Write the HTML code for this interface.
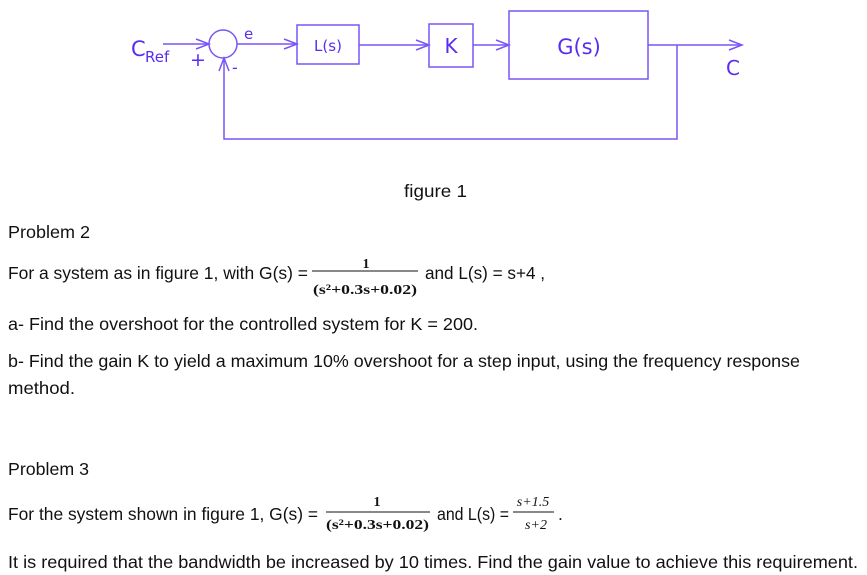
<!DOCTYPE html>
<html><head><meta charset="utf-8"><style>
html,body{margin:0;padding:0;background:#fff;}
svg{display:block;}
.t{font-family:"Liberation Sans",sans-serif;font-size:17.5px;fill:#111;}
.m{font-family:"Liberation Serif",serif;font-size:14px;fill:#111;}
.d{font-family:"DejaVu Sans","Liberation Sans",sans-serif;fill:#5b2cf0;}
</style></head><body>
<svg width="867" height="575" viewBox="0 0 867 575" xmlns="http://www.w3.org/2000/svg">
<g stroke="#7a55f5" stroke-width="1.5" fill="none">
<circle cx="223" cy="44" r="14"/>
<rect x="297" y="25" width="62" height="39"/>
<rect x="429" y="24" width="44" height="43"/>
<rect x="509" y="11" width="139" height="68"/>
<line x1="163" y1="44" x2="209" y2="44"/>
<line x1="237" y1="44" x2="297" y2="44"/>
<line x1="359" y1="45" x2="429" y2="45"/>
<line x1="473" y1="45" x2="509" y2="45"/>
<line x1="648" y1="45" x2="742" y2="45"/>
<polyline points="677,45 677,139 224,139 224,58"/>
<polyline points="196,39 209,44 196,49"/>
<polyline points="284,39 297,44 284,49"/>
<polyline points="416,40 429,45 416,50"/>
<polyline points="496,40 509,45 496,50"/>
<polyline points="729,40 742,45 729,50"/>
<polyline points="219,71 224,58 229,71"/>
</g>
<text class="d" x="131" y="56" font-size="21">C</text>
<text class="d" x="145" y="62" font-size="15">Ref</text>
<text class="d" x="190" y="66" font-size="19">+</text>
<text class="d" x="244" y="39" font-size="15">e</text>
<text class="d" x="232" y="73" font-size="16">-</text>
<text class="d" x="328" y="51" font-size="15" text-anchor="middle">L(s)</text>
<text class="d" x="451" y="53" font-size="20" text-anchor="middle">K</text>
<text class="d" x="579" y="54" font-size="21" text-anchor="middle">G(s)</text>
<text class="d" x="733" y="75" font-size="20" text-anchor="middle">C</text>

<text class="t" x="404" y="197" textLength="63" lengthAdjust="spacingAndGlyphs">figure 1</text>
<text class="t" x="8" y="238" textLength="82" lengthAdjust="spacingAndGlyphs">Problem 2</text>
<text class="t" x="8" y="279" textLength="300" lengthAdjust="spacingAndGlyphs">For a system as in figure 1, with G(s) =</text>
<text class="m" x="366" y="268" text-anchor="middle" font-weight="bold" font-size="12">1</text>
<line x1="312" y1="271" x2="418" y2="271" stroke="#111" stroke-width="1"/>
<text class="m" x="313" y="294" textLength="104" lengthAdjust="spacingAndGlyphs" font-weight="bold">(s²+0.3s+0.02)</text>
<text class="t" x="425" y="279" textLength="120" lengthAdjust="spacingAndGlyphs">and L(s) = s+4 ,</text>
<text class="t" x="8" y="330" textLength="470" lengthAdjust="spacingAndGlyphs">a- Find the overshoot for the controlled system for K = 200.</text>
<text class="t" x="8" y="367" textLength="792" lengthAdjust="spacingAndGlyphs">b- Find the gain K to yield a maximum 10% overshoot for a step input, using the frequency response</text>
<text class="t" x="8" y="394" textLength="67" lengthAdjust="spacingAndGlyphs">method.</text>
<text class="t" x="8" y="475" textLength="81" lengthAdjust="spacingAndGlyphs">Problem 3</text>
<text class="t" x="8" y="520" textLength="310" lengthAdjust="spacingAndGlyphs">For the system shown in figure 1, G(s) =</text>
<text class="m" x="377" y="506" text-anchor="middle" font-weight="bold" font-size="12">1</text>
<line x1="326" y1="512" x2="430" y2="512" stroke="#111" stroke-width="1"/>
<text class="m" x="326" y="529" textLength="103" lengthAdjust="spacingAndGlyphs" font-weight="bold">(s²+0.3s+0.02)</text>
<text class="t" x="437" y="520" textLength="72" lengthAdjust="spacingAndGlyphs">and L(s) =</text>
<text class="m" x="533" y="506" text-anchor="middle" font-style="italic">s+1.5</text>
<line x1="513" y1="512" x2="554" y2="512" stroke="#111" stroke-width="1"/>
<text class="m" x="536" y="529" text-anchor="middle" font-style="italic">s+2</text>
<text class="t" x="558" y="520">.</text>
<text class="t" x="8" y="568" textLength="850" lengthAdjust="spacingAndGlyphs">It is required that the bandwidth be increased by 10 times. Find the gain value to achieve this requirement.</text>
</svg>
</body></html>
